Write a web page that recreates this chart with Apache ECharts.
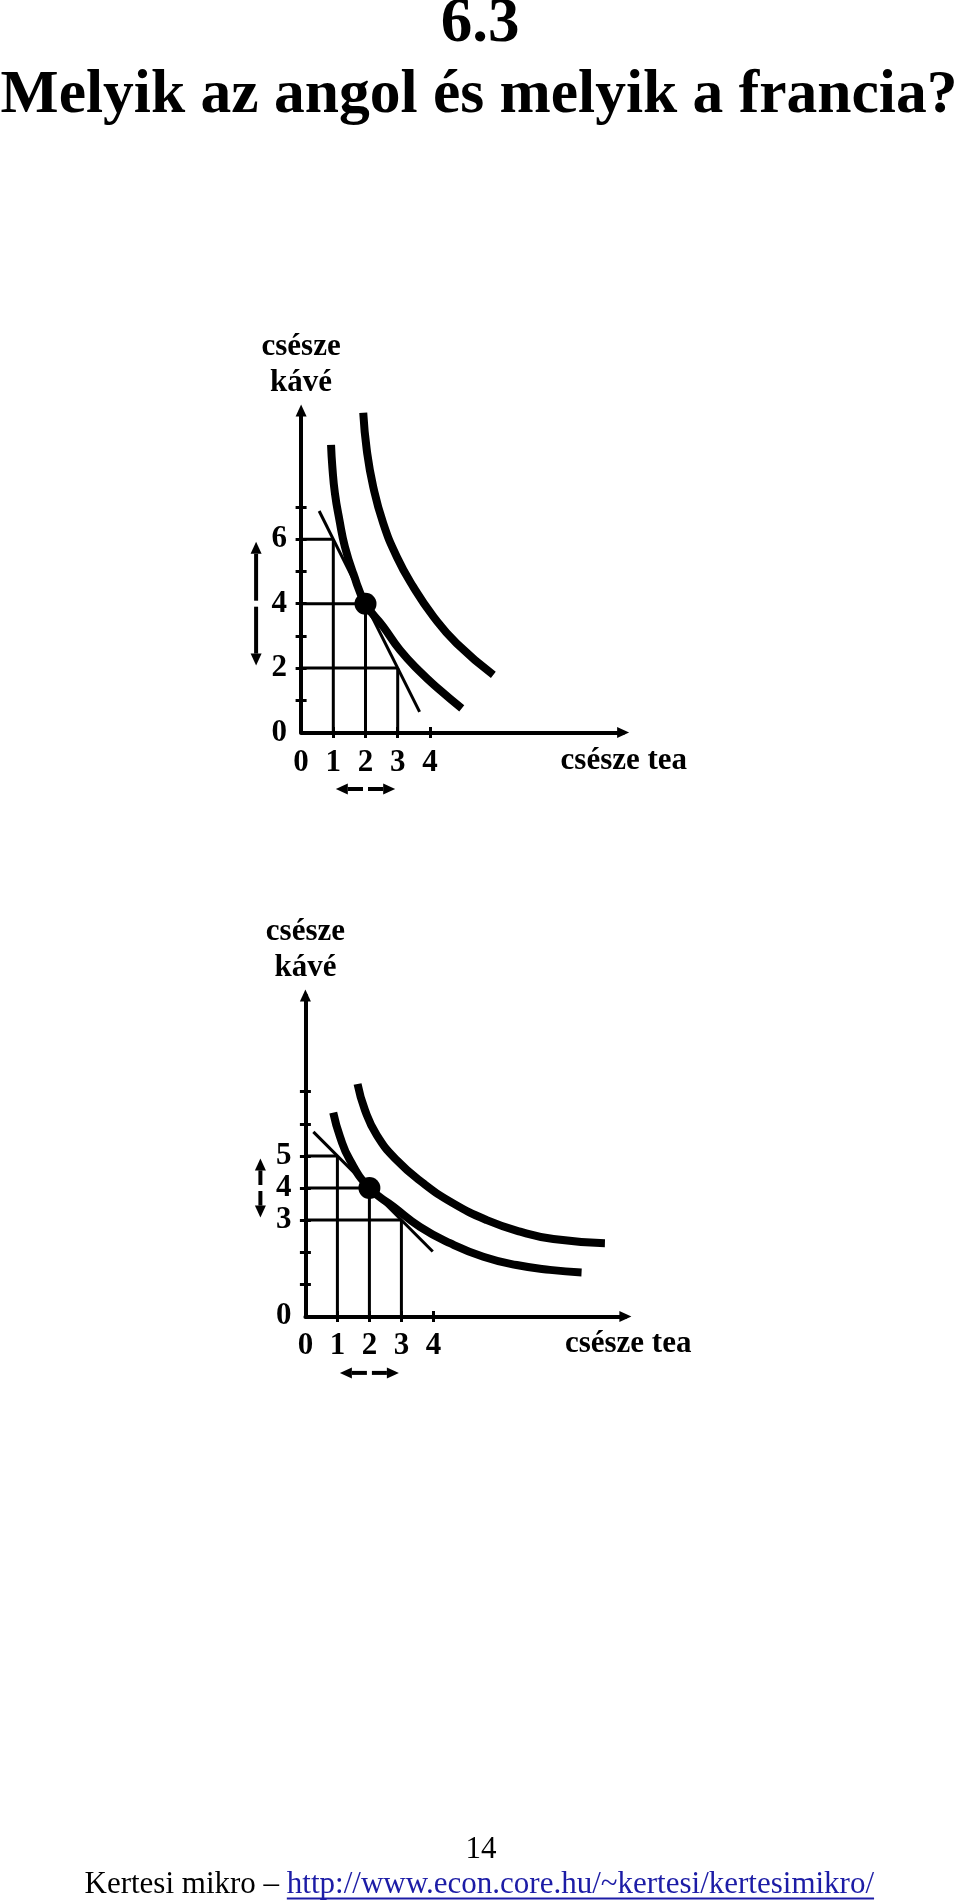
<!DOCTYPE html>
<html><head><meta charset="utf-8">
<script src="https://cdn.jsdelivr.net/npm/echarts@6/dist/echarts.min.js"></script>
<style>html,body{margin:0;padding:0;background:#fff}#c{width:960px;height:1901px}</style>
</head><body><div id="c"></div>
<script>
// ---- texts ----
const headline = '6.3';
const question = 'Melyik az angol és melyik a francia?';
const pageNo = '14';
const footerText = 'Kertesi mikro – ';
const footerUrl = 'http://www.econ.core.hu/~kertesi/kertesimikro/';
const xName = 'csésze tea';
const yName = 'csésze\nkávé';

// ---- axis ticks / labels ----
const teaTicks = [1, 2, 3, 4];
const teaLabels = [0, 1, 2, 3, 4];
const kaveTicks = [1, 2, 3, 4, 5, 6, 7];
const kaveLabelsA = [0, 2, 4, 6];
const kaveLabelsB = [0, 3, 4, 5];

// ---- chart A (upper) ----
const lowerCurveA = [[0.93,8.93],[0.97,8.25],[1.05,7.43],[1.19,6.6],[1.36,5.77],[1.62,4.94],[2.0,4.0],[2.55,3.29],[3.07,2.56],[3.69,1.89],[4.31,1.32],[4.99,0.75]];
const upperCurveA = [[1.93,9.93],[2.04,8.77],[2.24,7.63],[2.55,6.5],[2.97,5.46],[3.48,4.53],[4.11,3.6],[4.83,2.77],[5.97,1.79]];
const budgetA = [[0.56,6.88],[3.68,0.64]];
const cornersA = [[1,6],[2,4],[3,2]];
const optimumA = [[2,4]];
const kaveChangeA = [[2,6]];
const teaChangeA = [[1,3]];

// ---- chart B (lower) ----
const lowerCurveB = [[0.87,6.35],[1.08,5.6],[1.39,4.87],[2.0,4.0],[2.75,3.42],[3.58,2.79],[4.52,2.28],[5.56,1.86],[6.6,1.6],[7.64,1.45],[8.63,1.37]];
const upperCurveB = [[1.63,7.24],[1.86,6.43],[2.23,5.65],[2.85,4.87],[3.68,4.15],[4.62,3.52],[5.67,3.0],[6.71,2.64],[7.75,2.41],[9.36,2.28]];
const budgetB = [[0.25,5.75],[3.98,2.02]];
const cornersB = [[1,5],[2,4],[3,3]];
const optimumB = [[2,4]];
const kaveChangeB = [[3,5]];
const teaChangeB = [[1,3]];

// ---- layout ----
const SERIF = '"Liberation Serif", "Times New Roman", serif';
const grids = [
  { left: 301.1, top: 410.5, width: 322, height: 322 },
  { left: 305.4, top: 995.4, width: 320, height: 321 }
];
const mctx = document.createElement('canvas').getContext('2d');
function textW(str, font) { mctx.font = font; return mctx.measureText(str).width; }

const qSize = 60 * 957 / textW(question, 'bold 60px ' + SERIF);
const fSize = 30 * 790 / textW(footerText + footerUrl, '30px ' + SERIF);
const fFont = fSize + 'px ' + SERIF;
const footerX = 84.5;
const urlX = footerX + textW(footerText, fFont);
const urlW = textW(footerUrl, fFont);

const tickStyle = { color: '#000', width: 3 };
const labelStyle = { color: '#000', fontFamily: SERIF, fontWeight: 'bold', fontSize: 31 };

function xAxesFor(g) {
  return [
    { gridIndex: g, type: 'value', min: 0, max: 10, position: 'bottom',
      axisLine: { show: true, onZero: false, lineStyle: { color: '#000', width: 4 }, symbol: ['none', 'triangle'], symbolSize: [11, 12] },
      axisTick: { show: true, inside: false, length: 5.5, customValues: teaTicks, lineStyle: tickStyle },
      axisLabel: Object.assign({ show: true, customValues: teaLabels, margin: 14.5 }, labelStyle),
      splitLine: { show: false } },
    { gridIndex: g, type: 'value', min: 0, max: 10, position: 'bottom',
      axisLine: { show: false, onZero: false },
      axisTick: { show: true, inside: true, length: 5.5, customValues: teaTicks, lineStyle: tickStyle },
      axisLabel: { show: false }, splitLine: { show: false } }
  ];
}
function yAxesFor(g, labels) {
  return [
    { gridIndex: g, type: 'value', min: 0, max: 10, position: 'left',
      axisLine: { show: true, onZero: false, lineStyle: { color: '#000', width: 4 }, symbol: ['none', 'triangle'], symbolSize: [11, 12] },
      axisTick: { show: true, inside: false, length: 5.5, customValues: kaveTicks, lineStyle: tickStyle },
      axisLabel: Object.assign({ show: true, customValues: labels, margin: 14 }, labelStyle),
      splitLine: { show: false } },
    { gridIndex: g, type: 'value', min: 0, max: 10, position: 'left',
      axisLine: { show: false, onZero: false },
      axisTick: { show: true, inside: true, length: 5.5, customValues: kaveTicks, lineStyle: tickStyle },
      axisLabel: { show: false }, splitLine: { show: false } }
  ];
}

function arrowShape(x1, y1, x2, y2) {
  const dx = x2 - x1, dy = y2 - y1, len = Math.sqrt(dx * dx + dy * dy);
  const ux = dx / len, uy = dy / len, head = 12, half = 5.5;
  const bx = x2 - ux * head, by = y2 - uy * head;
  return [
    { type: 'line', shape: { x1: x1, y1: y1, x2: bx, y2: by }, style: { stroke: '#000', lineWidth: 4 } },
    { type: 'polygon', shape: { points: [[x2, y2], [bx - uy * half, by + ux * half], [bx + uy * half, by - ux * half]] }, style: { fill: '#000' } }
  ];
}

function seriesFor(g, lower, upper, budget, corners, optimum, kaveChange, teaChange) {
  const xi = g * 2, yi = g * 2;
  const base = { xAxisIndex: xi, yAxisIndex: yi, animation: false, silent: true };
  return [
    Object.assign({ type: 'custom', data: corners, z: 1,
      renderItem: function (p, api) {
        const pt = api.coord([api.value(0), api.value(1)]);
        const px = api.coord([0, api.value(1)]);
        const py = api.coord([api.value(0), 0]);
        return { type: 'group', children: [
          { type: 'line', shape: { x1: px[0], y1: px[1], x2: pt[0], y2: pt[1] }, style: { stroke: '#000', lineWidth: 3 } },
          { type: 'line', shape: { x1: py[0], y1: py[1], x2: pt[0], y2: pt[1] }, style: { stroke: '#000', lineWidth: 3 } }
        ] };
      } }, base),
    Object.assign({ type: 'line', data: lower, smooth: 0.5, showSymbol: false, z: 3,
      lineStyle: { color: '#000', width: 8, cap: 'butt' } }, base),
    Object.assign({ type: 'line', data: upper, smooth: 0.5, showSymbol: false, z: 3,
      lineStyle: { color: '#000', width: 8, cap: 'butt' } }, base),
    Object.assign({ type: 'line', data: budget, showSymbol: false, z: 4,
      lineStyle: { color: '#000', width: 3, cap: 'butt' } }, base),
    Object.assign({ type: 'scatter', data: optimum, symbol: 'circle', symbolSize: 22, z: 5,
      itemStyle: { color: '#000', opacity: 1 } }, base),
    Object.assign({ type: 'custom', data: kaveChange, z: 2, clip: false,
      renderItem: function (p, api) {
        const top = api.coord([0, api.value(1)]);
        const bot = api.coord([0, api.value(0)]);
        const x = top[0] - 45, mid = (top[1] + bot[1]) / 2, gap = 3, inset = 2.5;
        return { type: 'group', children: arrowShape(x, mid - gap, x, top[1] + inset).concat(arrowShape(x, mid + gap, x, bot[1] - inset)) };
      } }, base),
    Object.assign({ type: 'custom', data: teaChange, z: 2, clip: false,
      renderItem: function (p, api) {
        const l = api.coord([api.value(0), 0]);
        const r = api.coord([api.value(1), 0]);
        const y = l[1] + 56.5, mid = (l[0] + r[0]) / 2, gap = 2.5, inset = 2.5;
        return { type: 'group', children: arrowShape(mid - gap, y, l[0] + inset, y).concat(arrowShape(mid + gap, y, r[0] - inset, y)) };
      } }, base)
  ];
}

function nameGraphics(g) {
  const gr = grids[g];
  const yb = gr.top + gr.height;
  return [
    { type: 'text', x: gr.left, y: gr.top - 45.5, silent: true,
      style: { text: yName, font: 'bold 31px ' + SERIF, fill: '#000', lineHeight: 36, textAlign: 'center', align: 'center', textVerticalAlign: 'middle', verticalAlign: 'middle' } },
    { type: 'text', x: gr.left + 386, y: yb + 28, silent: true,
      style: { text: xName, font: 'bold 31px ' + SERIF, fill: '#000', textAlign: 'right', align: 'right', textVerticalAlign: 'middle', verticalAlign: 'middle' } }
  ];
}

const option = {
  backgroundColor: '#fff',
  animation: false,
  grid: grids.map(function (g) { return Object.assign({ containLabel: false }, g); }),
  xAxis: xAxesFor(0).concat(xAxesFor(1)),
  yAxis: yAxesFor(0, kaveLabelsA).concat(yAxesFor(1, kaveLabelsB)),
  series: seriesFor(0, lowerCurveA, upperCurveA, budgetA, cornersA, optimumA, kaveChangeA, teaChangeA)
    .concat(seriesFor(1, lowerCurveB, upperCurveB, budgetB, cornersB, optimumB, kaveChangeB, teaChangeB)),
  graphic: [
    { type: 'text', x: 480, y: 25, silent: true,
      style: { text: headline, font: 'bold 63px ' + SERIF, fill: '#000', textAlign: 'center', align: 'center', textVerticalAlign: 'middle', verticalAlign: 'middle' } },
    { type: 'text', x: 479, y: 117 - 0.3375 * qSize, silent: true,
      style: { text: question, font: 'bold ' + qSize + 'px ' + SERIF, fill: '#000', textAlign: 'center', align: 'center', textVerticalAlign: 'middle', verticalAlign: 'middle' } },
    { type: 'text', x: 481, y: 1850, silent: true,
      style: { text: pageNo, font: fFont, fill: '#000', textAlign: 'center', align: 'center', textVerticalAlign: 'middle', verticalAlign: 'middle' } },
    { type: 'text', x: footerX, y: 1895 - 0.3375 * fSize, silent: true,
      style: { text: footerText, font: fFont, fill: '#000', textAlign: 'left', align: 'left', textVerticalAlign: 'middle', verticalAlign: 'middle' } },
    { type: 'text', x: urlX, y: 1895 - 0.3375 * fSize, silent: true,
      style: { text: footerUrl, font: fFont, fill: '#1c1ca6', textAlign: 'left', align: 'left', textVerticalAlign: 'middle', verticalAlign: 'middle' } },
    { type: 'rect', silent: true, shape: { x: urlX, y: 1897.5, width: urlW, height: 2 }, style: { fill: '#1c1ca6' } }
  ].concat(nameGraphics(0)).concat(nameGraphics(1))
};

const chart = echarts.init(document.getElementById('c'), null, { renderer: 'canvas', width: 960, height: 1901 });
chart.setOption(option);
</script>
</body></html>
